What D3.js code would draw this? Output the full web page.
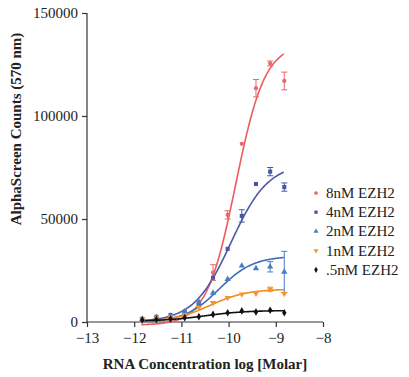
<!DOCTYPE html>
<html>
<head>
<meta charset="utf-8">
<script src="https://cdn.jsdelivr.net/npm/d3@7"></script>
<style>
  body { margin: 0; background: #fff; }
  svg text { font-family: "Liberation Serif", "Times New Roman", serif; }
</style>
</head>
<body>
<div id="chart"></div>
<script>
const width = 409;
const height = 377;

// log [Molar] concentrations (half-log dilution series)
const logConc = [-8.82, -9.12, -9.42, -9.72, -10.02, -10.33, -10.63, -10.93, -11.23, -11.53, -11.83];

const seriesNames = ["8nM EZH2", "4nM EZH2", "2nM EZH2", "1nM EZH2", ".5nM EZH2"];

// measured counts, same order as logConc
const counts8 = [117000, 125500, 113500, 86500, 52000, 24000, 10000, 4000, 2800, 1800, 1200];
const counts4 = [65500, 73000, 67000, 51500, 35500, 21500, 9000, 5000, 3400, 2500, 1500];
const counts2 = [24300, 26800, 26000, 27300, 20800, 14100, 9400, 5000, 3000, 2300, 1400];
const counts1 = [13800, 15900, 13900, 13500, 11800, 9300, 7000, 3500, 2500, 1900, 1300];
const counts05 = [4500, 5700, 4900, 5400, 4500, 3700, 2600, 2100, 1500, 1200, 1000];

// error bar half-widths (0 = none shown)
const err8 = [4300, 1200, 4200, 0, 2000, 3800, 0, 0, 0, 0, 0];
const err4 = [2000, 2000, 0, 3000, 0, 0, 0, 0, 0, 0, 0];
const err2 = [10000, 2500, 0, 0, 0, 0, 0, 0, 0, 0, 0];
const err1 = [0, 1000, 0, 0, 0, 0, 0, 0, 0, 0, 0];
const err05 = [0, 0, 0, 0, 0, 0, 0, 0, 0, 0, 0];

// dose-response fit parameters
const fitTop = [135000, 77000, 32000, 16000, 5600];
const fitBottom = [-1500, 0, 0, 0, 400];
const fitLogEC50 = [-9.85, -9.95, -10.2, -10.4, -10.5];
const fitHill = [1.4, 1.1, 1.2, 1.1, 1.0];

const xTicks = [-13, -12, -11, -10, -9, -8];
const yTicks = [0, 50000, 100000, 150000];

const colors = ["#e8686a", "#4a57a8", "#4a7cc4", "#f39632", "#111111"];
const lineColors = ["#ea5c60", "#4c5aa6", "#3f6db4", "#f08a22", "#111111"];
const shapes = [d3.symbolCircle, d3.symbolSquare, d3.symbolTriangle, "down", d3.symbolDiamond];

const allCounts = [counts8, counts4, counts2, counts1, counts05];
const allErr = [err8, err4, err2, err1, err05];

const series = seriesNames.map((name, i) => ({
    name: name,
    color: colors[i],
    lineColor: lineColors[i],
    shape: shapes[i],
    top: fitTop[i], bottom: fitBottom[i], ec50: fitLogEC50[i], hill: fitHill[i],
    points: logConc.map((x, j) => ({ x: x, y: allCounts[i][j], e: allErr[i][j] }))
}));

const x = d3.scaleLinear().domain([-13, -8]).range([87, 323]);
const y = d3.scaleLinear().domain([0, 150000]).range([322, 13]);

const svg = d3.select("#chart").append("svg")
    .attr("width", width)
    .attr("height", height);

// axes
const xAxis = svg.append("g")
    .attr("transform", `translate(0,${y(0)})`)
    .call(d3.axisBottom(x).tickValues(xTicks).tickSize(5).tickPadding(5).tickFormat(d3.format("d")));
const yAxis = svg.append("g")
    .attr("transform", `translate(${x(-13)},0)`)
    .call(d3.axisLeft(y).tickValues(yTicks).tickSize(5).tickPadding(4).tickFormat(d3.format("d")));

[xAxis, yAxis].forEach(a => {
    a.select(".domain").attr("stroke", "#333").attr("stroke-width", 1.2);
    a.selectAll(".tick line").attr("stroke", "#333").attr("stroke-width", 1.2);
    a.selectAll(".tick text")
        .attr("fill", "#222")
        .style("font-size", "15px")
        .style("font-family", "'Liberation Serif', serif");
});
xAxis.select(".domain").attr("d", `M${x(-13)},0H${x(-8)}`);
yAxis.select(".domain").attr("d", `M0,${y(150000)}V${y(0)}`);

// axis titles
svg.append("text")
    .attr("x", 205)
    .attr("y", 369)
    .attr("text-anchor", "middle")
    .style("font-size", "15px")
    .style("font-weight", "bold")
    .attr("fill", "#222")
    .text("RNA Concentration log [Molar]");

svg.append("text")
    .attr("transform", "translate(21,129) rotate(-90)")
    .attr("text-anchor", "middle")
    .style("font-size", "15px")
    .style("font-weight", "bold")
    .attr("fill", "#222")
    .text("AlphaScreen Counts (570 nm)");

// fitted curves
const hillFn = s => xv => s.bottom + (s.top - s.bottom) / (1 + Math.pow(10, (s.ec50 - xv) * s.hill));
const curveX = d3.range(-11.85, -8.82 + 1e-9, 0.02);
const line = d3.line().x(d => x(d[0])).y(d => y(d[1])).curve(d3.curveBasis);

series.forEach(s => {
    const f = hillFn(s);
    svg.append("path")
        .datum(curveX.map(v => [v, f(v)]))
        .attr("fill", "none")
        .attr("stroke", s.lineColor)
        .attr("stroke-width", 1.6)
        .attr("d", line);
});

function symbolPath(shape, size) {
    if (shape === "down") return d3.symbol(d3.symbolTriangle, size)();
    return d3.symbol(shape, size)();
}

// error bars and markers
series.forEach(s => {
    const g = svg.append("g");
    s.points.filter(p => p.e > 0).forEach(p => {
        const cx = x(p.x);
        g.append("path")
            .attr("d", `M${cx},${y(p.y - p.e)}V${y(p.y + p.e)}M${cx - 3},${y(p.y - p.e)}H${cx + 3}M${cx - 3},${y(p.y + p.e)}H${cx + 3}`)
            .attr("stroke", s.color)
            .attr("stroke-width", 1)
            .attr("fill", "none");
    });
    g.selectAll("path.pt")
        .data(s.points)
        .join("path")
        .attr("class", "pt")
        .attr("d", symbolPath(s.shape, s.shape === d3.symbolCircle ? 14 : 17))
        .attr("transform", d => `translate(${x(d.x)},${y(d.y)})` + (s.shape === "down" ? " rotate(180)" : ""))
        .attr("fill", s.color);
});

// legend
const legend = svg.append("g");
series.forEach((s, i) => {
    const ly = 193 + i * 19.2;
    legend.append("path")
        .attr("d", symbolPath(s.shape, 11))
        .attr("transform", `translate(316,${ly})` + (s.shape === "down" ? " rotate(180)" : ""))
        .attr("fill", s.color);
    legend.append("text")
        .attr("x", 326)
        .attr("y", ly + 5)
        .style("font-size", "15px")
        .attr("fill", "#222")
        .text(s.name);
});
</script>
</body>
</html>
